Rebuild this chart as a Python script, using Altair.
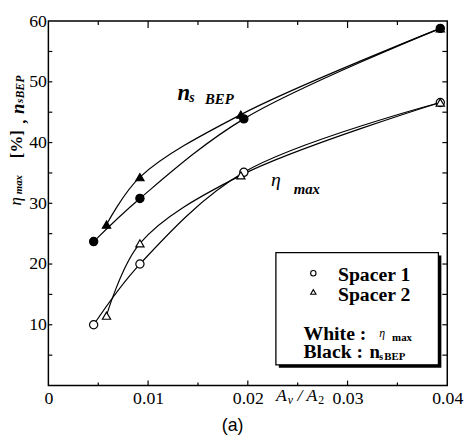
import altair as alt
import pandas as pd

# ---- data ----
s1_eta_x = [0.00454, 0.00918, 0.0196, 0.0393]
s1_eta_y = [10.0, 20.0, 35.1, 46.6]
s2_eta_x = [0.00583, 0.00918, 0.0193, 0.0393]
s2_eta_y = [11.5, 23.4, 34.6, 46.6]
s1_ns_x = [0.00454, 0.00918, 0.0196, 0.0393]
s1_ns_y = [23.7, 30.8, 43.9, 58.8]
s2_ns_x = [0.00583, 0.00918, 0.0193, 0.0393]
s2_ns_y = [26.5, 34.3, 44.6, 58.8]

x_labels = [0, 0.01, 0.02, 0.03, 0.04]
y_labels = [10, 20, 30, 40, 50, 60]
x_major = [0.01, 0.02, 0.03]
x_minor = [0.005, 0.015, 0.025, 0.035]
y_ticks = [5, 10, 15, 20, 25, 30, 35, 40, 45, 50, 55]

rows = []
for xs, ys, sp, kind in [
    (s1_eta_x, s1_eta_y, "Spacer 1", "eta"),
    (s2_eta_x, s2_eta_y, "Spacer 2", "eta"),
    (s1_ns_x, s1_ns_y, "Spacer 1", "ns"),
    (s2_ns_x, s2_ns_y, "Spacer 2", "ns"),
]:
    for a, b in zip(xs, ys):
        rows.append({"x": a, "y": b, "spacer": sp, "kind": kind, "grp": sp + kind})
df = pd.DataFrame(rows)

W, H = 405, 370
SERIF = "'Liberation Serif', 'Times New Roman', Times, serif"
SANS = "'Liberation Sans', Arial, sans-serif"

xscale = alt.Scale(domain=[0, 0.04], nice=False, zero=False)
yscale = alt.Scale(domain=[0, 60], nice=False)
xaxis = alt.Axis(values=x_labels, labelExpr="datum.value == 0 ? '0' : format(datum.value, '.2f')",
                 tickSize=0, domain=False, grid=False, title=None, labelFont=SERIF,
                 labelFontSize=18, labelColor="black", labelPadding=4, labelFlush=False)
yaxis = alt.Axis(values=y_labels, tickSize=0, domain=False, grid=False, title=None,
                 labelFont=SERIF, labelFontSize=18, labelColor="black", labelPadding=2,
                 labelFlush=False)

X = alt.X("x:Q", scale=xscale, axis=xaxis)
Y = alt.Y("y:Q", scale=yscale, axis=yaxis)

lines = alt.Chart(df).mark_line(interpolate="catmull-rom", color="black", strokeWidth=1.2).encode(
    x=X, y=Y, detail="grp:N", order="x:Q")

points = alt.Chart(df).mark_point(size=70, strokeWidth=1.2, opacity=1, stroke="black", filled=True).encode(
    x=X, y=Y,
    shape=alt.Shape("spacer:N", scale=alt.Scale(domain=["Spacer 1", "Spacer 2"], range=["circle", "triangle-up"]), legend=None),
    fill=alt.Fill("kind:N", scale=alt.Scale(domain=["eta", "ns"], range=["white", "black"]), legend=None),
)

# inward ticks
xmaj = pd.DataFrame({"x": x_major})
xmin = pd.DataFrame({"x": x_minor})
ytk = pd.DataFrame({"y": y_ticks})
ticks = [
    alt.Chart(xmaj).mark_rule(color="black", strokeWidth=1.2).encode(x=X, y=alt.value(H), y2=alt.value(H - 5)),
    alt.Chart(xmin).mark_rule(color="black", strokeWidth=1.2).encode(x=X, y=alt.value(H), y2=alt.value(H - 3)),
    alt.Chart(xmaj).mark_rule(color="black", strokeWidth=1.2).encode(x=X, y=alt.value(0), y2=alt.value(7)),
    alt.Chart(xmin).mark_rule(color="black", strokeWidth=1.2).encode(x=X, y=alt.value(0), y2=alt.value(4)),
    alt.Chart(ytk).mark_rule(color="black", strokeWidth=1.2).encode(y=Y, x=alt.value(0), x2=alt.value(4)),
    alt.Chart(ytk).mark_rule(color="black", strokeWidth=1.2).encode(y=Y, x=alt.value(W), x2=alt.value(W - 5)),
]

def txt(text, x, y, size, weight="normal", style="normal", font=SERIF, align="left",
        baseline="alphabetic", angle=0):
    kw = dict(text=text, font=font, fontSize=size, fontWeight=weight, fontStyle=style,
              align=align, baseline=baseline, color="black")
    if angle:
        kw["angle"] = angle
    return alt.Chart(pd.DataFrame({"a": [0]})).mark_text(**kw).encode(x=x, y=y)

V = alt.value
D = alt.datum

annots = [
    # in-plot labels (data coordinates)
    txt("n", D(0.01294), D(47.0), 23, "bold", "italic"),
    txt("s", D(0.01412), D(46.7), 14, "bold", "italic"),
    txt("BEP", D(0.0157), D(46.4), 15, "bold", "italic"),
    txt("η", D(0.02232), D(32.9), 20, "normal", "italic"),
    txt("max", D(0.0246), D(31.6), 15, "bold", "italic"),
]

# y title pieces (rotated)
ytitle = [
    txt("η", V(-33), V(183), 17, "normal", "italic", align="center", baseline="middle", angle=270),
    txt("max", V(-30), V(166), 11, "bold", "italic", align="center", baseline="middle", angle=270),
    txt("[%]", V(-32), V(125), 17, "bold", "normal", align="center", baseline="middle", angle=270),
    txt(",", V(-28), V(102), 17, "bold", "normal", align="center", baseline="middle", angle=270),
    txt("n", V(-31), V(89), 19, "bold", "italic", align="center", baseline="middle", angle=270),
    txt("s", V(-29), V(81), 11, "bold", "italic", align="center", baseline="middle", angle=270),
    txt("BEP", V(-29), V(67), 12, "bold", "italic", align="center", baseline="middle", angle=270),
]

# x title pieces
xtitle = [
    txt("A", V(231), V(386), 18, "normal", "italic"),
    txt("v", V(243), V(389), 12, "normal", "italic"),
    txt("/", V(253), V(386), 18, "normal", "italic"),
    txt("A", V(262), V(386), 18, "normal", "italic"),
    txt("2", V(274), V(389), 12, "normal", "normal"),
    txt("(a)", V(187), V(416), 18, "normal", "normal", font=SANS, align="center"),
]

# legend box
one = pd.DataFrame({"a": [0]})
box = [
    alt.Chart(one).mark_rect(color="black").encode(x=V(234), x2=V(399), y=V(238), y2=V(352)),
    alt.Chart(one).mark_rect(fill="white", stroke="black", strokeWidth=1.3).encode(
        x=V(231), x2=V(396), y=V(235), y2=V(349)),
    alt.Chart(one).mark_point(shape="circle", size=30, stroke="black", strokeWidth=1.1, filled=False, opacity=1).encode(
        x=V(269), y=V(256)),
    alt.Chart(one).mark_point(shape="triangle-up", size=30, stroke="black", strokeWidth=1.1, filled=False, opacity=1).encode(
        x=V(269), y=V(275)),
    txt("Spacer 1", V(294), V(264), 20, "bold"),
    txt("Spacer 2", V(294), V(284), 20, "bold"),
    txt("White :", V(259), V(324), 20, "bold"),
    txt("η", V(336), V(321), 12, "normal", "italic"),
    txt("max", V(349), V(325), 11, "bold"),
    txt("Black :", V(259), V(342), 20, "bold"),
    txt("n", V(326), V(342), 19, "bold"),
    txt("s", V(336), V(344), 10, "bold"),
    txt("BEP", V(341), V(344), 11, "bold"),
]

chart = alt.layer(lines, points, *ticks, *annots, *ytitle, *xtitle, *box).properties(
    width=W, height=H,
    autosize=alt.AutoSizeParams(type="none"),
    padding={"left": 41, "top": 10, "right": 18, "bottom": 50},
    background="white",
).configure_view(stroke="black", strokeWidth=1.5)

chart.save("out.html", embed_options={"renderer": "svg", "actions": False})
